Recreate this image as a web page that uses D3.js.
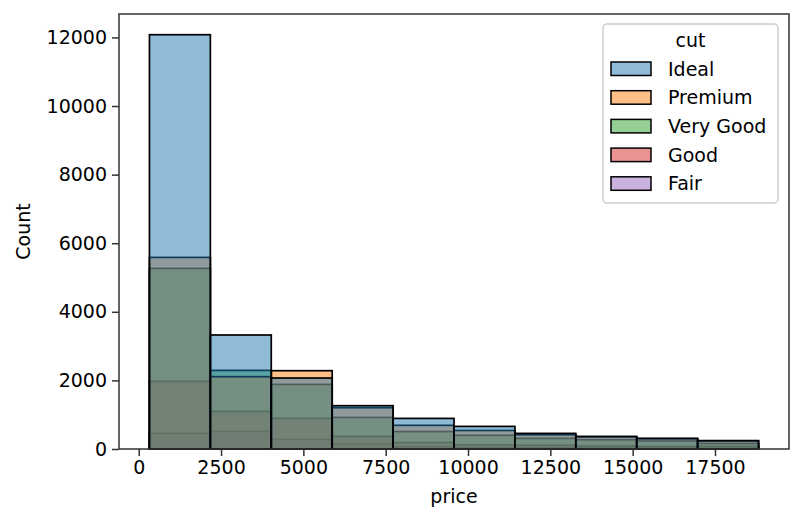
<!DOCTYPE html>
<html>
<head>
<meta charset="utf-8">
<script src="https://cdn.jsdelivr.net/npm/d3@7"></script>
<style>
  body { margin: 0; background: #fff; }
  text { font-family: "DejaVu Sans", sans-serif; fill: #000; }
</style>
</head>
<body>
<div id="hist"></div>
<script>
// bin edges of price (10 bins, min 326 .. max 18823)
var binEdges = [326, 2175.7, 4025.4, 5875.1, 7724.8, 9574.5, 11424.2, 13273.9, 15123.6, 16973.3, 18823];

var cuts = ["Ideal", "Premium", "Very Good", "Good", "Fair"];
var cutColors = ["#1f77b4", "#ff7f0e", "#2ca02c", "#d62728", "#9467bd"];

// counts per bin
var idealCounts    = [12079, 3324, 2070, 1262, 892, 659, 455, 367, 310, 245];
var premiumCounts  = [5586, 2108, 2283, 1204, 690, 540, 415, 355, 300, 235];
var veryGoodCounts = [5266, 2292, 1883, 921, 508, 400, 310, 271, 233, 163];
var goodCounts     = [1971, 1096, 892, 367, 188, 117, 110, 87, 76, 76];
var fairCounts     = [455, 513, 280, 146, 70, 40, 40, 30, 25, 25];

var xTicks = [0, 2500, 5000, 7500, 10000, 12500, 15000, 17500];
var yTicks = [0, 2000, 4000, 6000, 8000, 10000, 12000];

var countsByCut = [idealCounts, premiumCounts, veryGoodCounts, goodCounts, fairCounts];

var W = 803, H = 523,
    margin = {top: 14, right: 14, bottom: 74, left: 119},
    width = W - margin.left - margin.right,
    height = H - margin.top - margin.bottom,
    fs = "19px";

var xmin = binEdges[0], xmax = binEdges[binEdges.length - 1],
    pad = (xmax - xmin) * 0.05;
var ymax = d3.max(countsByCut, function(c) { return d3.max(c); }) * 1.05;

var xScale = d3.scaleLinear().domain([xmin - pad, xmax + pad]).range([0, width]);
var yScale = d3.scaleLinear().domain([0, ymax]).range([height, 0]);

var svg = d3.select("#hist").append("svg")
    .attr("width", W)
    .attr("height", H)
  .append("g")
    .attr("transform", "translate(" + margin.left + "," + margin.top + ")");

// layers drawn last-to-first so Ideal sits on top
var layerData = cuts.map(function(c, i) {
  return {cut: c, color: cutColors[i], counts: countsByCut[i]};
}).reverse();

var layer = svg.selectAll(".layer")
    .data(layerData)
    .enter().append("g")
    .attr("class", "layer");

layer.selectAll("rect")
    .data(function(d) {
      return d.counts.map(function(v, j) {
        return {x0: binEdges[j], x1: binEdges[j + 1], v: v, color: d.color};
      });
    })
    .enter().append("rect")
      .attr("x", function(d) { return xScale(d.x0); })
      .attr("width", function(d) { return xScale(d.x1) - xScale(d.x0); })
      .attr("y", function(d) { return yScale(d.v); })
      .attr("height", function(d) { return yScale(0) - yScale(d.v); })
      .attr("fill", function(d) { return d.color; })
      .attr("fill-opacity", 0.5)
      .attr("stroke", "#000")
      .attr("stroke-width", 1.7);

// axes
var xAxis = d3.axisBottom(xScale).tickValues(xTicks).tickSize(7).tickPadding(5).tickFormat(d3.format("d"));
var yAxis = d3.axisLeft(yScale).tickValues(yTicks).tickSize(7).tickPadding(5).tickFormat(d3.format("d"));

var gx = svg.append("g")
    .attr("class", "axis axis--x")
    .attr("transform", "translate(0," + height + ")")
    .call(xAxis);
var gy = svg.append("g")
    .attr("class", "axis axis--y")
    .call(yAxis);

[gx, gy].forEach(function(g) {
  g.select(".domain").remove();
  g.selectAll(".tick line").attr("stroke", "#333").attr("stroke-width", 1.5);
  g.selectAll(".tick text").style("font-size", fs).attr("fill", "#000");
});

// frame
svg.append("rect")
    .attr("width", width)
    .attr("height", height)
    .attr("fill", "none")
    .attr("stroke", "#333")
    .attr("stroke-width", 1.5);

// axis labels
svg.append("text")
    .attr("x", width / 2)
    .attr("y", height + 54)
    .style("text-anchor", "middle")
    .style("font-size", fs)
    .text("price");

svg.append("text")
    .attr("transform", "translate(" + (-89) + "," + (height / 2) + ") rotate(-90)")
    .style("text-anchor", "middle")
    .style("font-size", fs)
    .text("Count");

// legend
var lg = svg.append("g")
    .attr("transform", "translate(" + (603 - margin.left) + "," + (24 - margin.top) + ")");

lg.append("rect")
    .attr("width", 175)
    .attr("height", 179)
    .attr("rx", 4)
    .attr("fill", "#fff")
    .attr("fill-opacity", 0.8)
    .attr("stroke", "#ccc")
    .attr("stroke-width", 1.5);

lg.append("text")
    .attr("x", 87.5)
    .attr("y", 23)
    .style("text-anchor", "middle")
    .style("font-size", fs)
    .text("cut");

var item = lg.selectAll(".item")
    .data(cuts)
    .enter().append("g")
    .attr("class", "item")
    .attr("transform", function(d, i) { return "translate(0," + (45 + i * 28.7) + ")"; });

item.append("rect")
    .attr("x", 8)
    .attr("y", -7)
    .attr("width", 40)
    .attr("height", 13.5)
    .attr("fill", function(d, i) { return cutColors[i]; })
    .attr("fill-opacity", 0.5)
    .attr("stroke", "#000")
    .attr("stroke-width", 1.5);

item.append("text")
    .attr("x", 65)
    .attr("y", 6.5)
    .style("font-size", fs)
    .text(function(d) { return d; });
</script>
</body>
</html>
